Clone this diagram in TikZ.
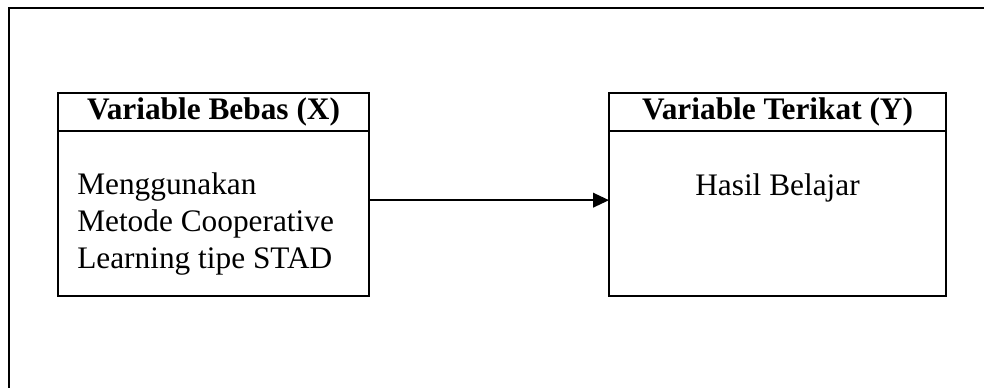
\documentclass[tikz,border=0pt]{standalone}
\usepackage{fontspec}
\setmainfont{Liberation Serif}
\usetikzlibrary{arrows.meta}
\usetikzlibrary{positioning}
\tikzset{
  head/.style={draw,line width=0.45mm,outer sep=0pt,font=\fontsize{23.5}{27}\selectfont\bfseries,minimum height=28.5pt,inner sep=0pt},
  body/.style={draw,line width=0.45mm,outer sep=0pt,minimum height=123.75pt,inner sep=0pt},
  txt/.style={inner sep=0pt,font=\fontsize{23.5}{27.75}\selectfont},
}

\begin{document}
\begin{tikzpicture}[x=0.75pt,y=-0.75pt]
  \useasboundingbox (0,0) rectangle (984,387);
  \clip (0,0) rectangle (984,387);
  %FRAME
  \draw[black,line width=0.55mm] (9,8) rectangle (1000,400);
  %BOX X
  \node[head,minimum width=233.25pt] (hx) at (213.5,112) {Variable Bebas (X)};
  \node[body,minimum width=233.25pt,below=0pt of hx] (bx) {};
  \node[txt,anchor=base west,align=left] (tx) at (77,268) {Menggunakan\\Metode Cooperative\\Learning tipe STAD};
  %BOX Y
  \node[head,minimum width=252.75pt] (hy) at (777.5,112) {Variable Terikat (Y)};
  \node[body,minimum width=252.75pt,below=0pt of hy] (by) {};
  \node[txt,anchor=base] (ty) at (777.5,195) {Hasil Belajar};
  %ARROW
  \draw[line width=0.45mm,-{Triangle[length=12pt,width=11pt]}] ([yshift=10pt]bx.east) -- ([yshift=10pt]by.west);
\end{tikzpicture}
\end{document}
